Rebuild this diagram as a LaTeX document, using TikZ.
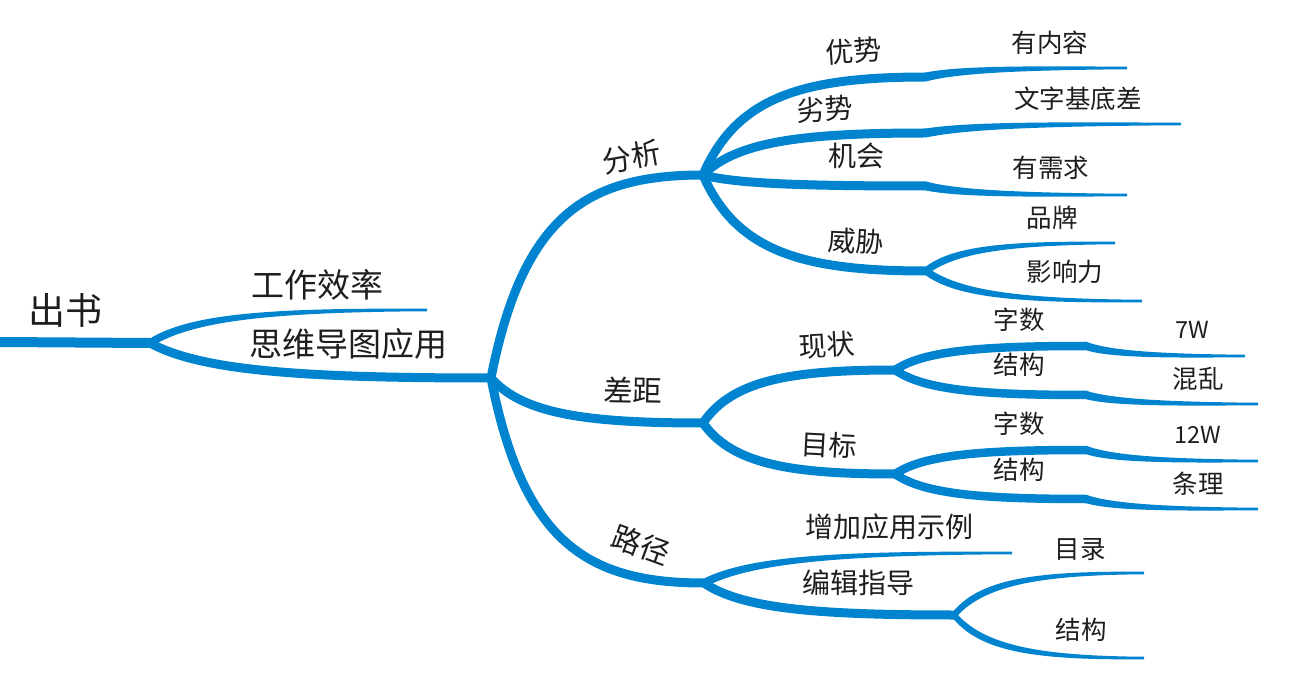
\documentclass[tikz,border=0pt]{standalone}
\usepackage{fontspec}
\setmainfont{Noto Sans CJK SC}
\usetikzlibrary{calc}
\definecolor{mmblue}{HTML}{0084D0}
\definecolor{mmtext}{HTML}{1E1E1E}
\newcommand{\brch}[3][]{%
  \draw[branch,#1] let \p1=(#2), \p2=(#3) in (\p1)
    .. controls ({\x1+0.15*(\x2-\x1)},{\y1+0.8*(\y2-\y1)})
    and ({\x1+0.45*(\x2-\x1)},{\y2}) .. (\p2);}
\newcommand{\lf}[4]{%
  \fill[leaffill] let \p1=(#1), \p2=(#2) in
    ({\x1},{\y1+#3/2})
    .. controls ({\x1+0.15*(\x2-\x1)},{\y1+0.8*(\y2-\y1)+(0.7*#3+0.3*#4)/2})
    and ({\x1+0.45*(\x2-\x1)},{\y2+(0.3*#3+0.7*#4)/2}) .. ({\x2},{\y2+#4/2})
    -- ({\x2},{\y2-#4/2})
    .. controls ({\x1+0.45*(\x2-\x1)},{\y2-(0.3*#3+0.7*#4)/2})
    and ({\x1+0.15*(\x2-\x1)},{\y1+0.8*(\y2-\y1)-(0.7*#3+0.3*#4)/2}) .. ({\x1},{\y1-#3/2})
    -- cycle;}
\begin{document}
\begin{tikzpicture}[x=1pt,y=-1pt,
  branch/.style={draw=mmblue, line width=9pt, line cap=round},
  leaffill/.style={fill=mmblue},
  lbl/.style={inner sep=0pt, text=mmtext, anchor=center},
  f0/.style={lbl, font=\fontsize{37}{40}\selectfont},
  f1/.style={lbl, font=\fontsize{33}{36}\selectfont},
  f2/.style={lbl, font=\fontsize{29.5}{32}\selectfont},
  f3/.style={lbl, font=\fontsize{28}{30}\selectfont},
  f4/.style={lbl, font=\fontsize{25.5}{28}\selectfont},
  f5/.style={lbl, font=\fontsize{23.5}{26}\selectfont}]
\useasboundingbox (0,0) rectangle (1304,692);
% coordinates
\coordinate (r0) at (0,342);
\coordinate (J0) at (150,343);
\coordinate (E1) at (427,310);
\coordinate (J1) at (491,378);
\coordinate (A) at (703,175);
\coordinate (B) at (703,423);
\coordinate (C) at (704,583);
\coordinate (A1) at (926,77);
\coordinate (A2) at (926,133);
\coordinate (A3) at (926,186);
\coordinate (A4) at (926,271);
\coordinate (A1e) at (1127,68);
\coordinate (A2e) at (1181,124);
\coordinate (A3e) at (1127,195);
\coordinate (A4a) at (1115,243);
\coordinate (A4b) at (1142,301);
\coordinate (B1) at (895,370);
\coordinate (B2) at (895,474);
\coordinate (B11) at (1086,346);
\coordinate (B12) at (1086,395);
\coordinate (B21) at (1086,450);
\coordinate (B22) at (1086,499);
\coordinate (B11e) at (1245,356);
\coordinate (B12e) at (1258,404);
\coordinate (B21e) at (1258,461);
\coordinate (B22e) at (1258,509);
\coordinate (C1e) at (1012,553);
\coordinate (C2) at (954,615);
\coordinate (C2a) at (1144,573);
\coordinate (C2b) at (1144,658);
% branches
\draw[branch, line width=10pt, line cap=butt] (r0) -- (J0);
\lf{J0}{E1}{9pt}{2.5pt}
\brch{J0}{J1}
\brch{J1}{A}
\brch{J1}{B}
\brch{J1}{C}
\brch{A}{A1}
\brch{A}{A2}
\brch{A}{A3}
\brch{A}{A4}
\lf{A1}{A1e}{9pt}{2.5pt}
\lf{A2}{A2e}{9pt}{2.5pt}
\lf{A3}{A3e}{9pt}{2.5pt}
\lf{A4}{A4a}{9pt}{2.5pt}
\lf{A4}{A4b}{9pt}{2.5pt}
\brch{B}{B1}
\brch{B}{B2}
\brch[line width=8.5pt]{B1}{B11}
\brch[line width=8.5pt]{B1}{B12}
\brch[line width=8.5pt]{B2}{B21}
\brch[line width=8.5pt]{B2}{B22}
\lf{B11}{B11e}{8.5pt}{2.5pt}
\lf{B12}{B12e}{8.5pt}{2.5pt}
\lf{B21}{B21e}{8.5pt}{2.5pt}
\lf{B22}{B22e}{8.5pt}{2.5pt}
\lf{C}{C1e}{9pt}{2.5pt}
\brch{C}{C2}
\lf{C2}{C2a}{9pt}{2.5pt}
\lf{C2}{C2b}{9pt}{2.5pt}
% labels
\node[f0] (t0) at (65,310) {出书};
\node[f1] (t1) at (317,285) {工作效率};
\node[f1] (t2) at (348,344) {思维导图应用};
\node[f2, rotate=10] (tA) at (632,157) {分析};
\node[f2, rotate=-1] (tB) at (633,390) {差距};
\node[f2, rotate=-20] (tC) at (641,545) {路径};
\node[f3, rotate=4] (tA1) at (854,51) {优势};
\node[f3, rotate=3] (tA2) at (825,109) {劣势};
\node[f3] (tA3) at (856,156) {机会};
\node[f3, rotate=-3] (tA4) at (856,241) {威胁};
\node[f4] (tA1e) at (1050,43) {有内容};
\node[f4] (tA2e) at (1078,99) {文字基底差};
\node[f4] (tA3e) at (1051,168) {有需求};
\node[f4] (tA4a) at (1052,218) {品牌};
\node[f4] (tA4b) at (1065,272) {影响力};
\node[f3, rotate=3] (tB1) at (827,345) {现状};
\node[f3, rotate=-3] (tB2) at (829,445) {目标};
\node[f4] (tB11) at (1019,320) {字数};
\node[f4] (tB12) at (1019,365) {结构};
\node[f4] (tB21) at (1019,424) {字数};
\node[f4] (tB22) at (1019,470) {结构};
\node[f5] (tB11e) at (1192,330) {7W};
\node[f4] (tB12e) at (1198,379) {混乱};
\node[f5] (tB21e) at (1198,435) {12W};
\node[f4] (tB22e) at (1198,484) {条理};
\node[f3] (tC1) at (889,527) {增加应用示例};
\node[f3] (tC2) at (858,583) {编辑指导};
\node[f4] (tC2a) at (1080,549) {目录};
\node[f4] (tC2b) at (1081,630) {结构};
\end{tikzpicture}
\end{document}
